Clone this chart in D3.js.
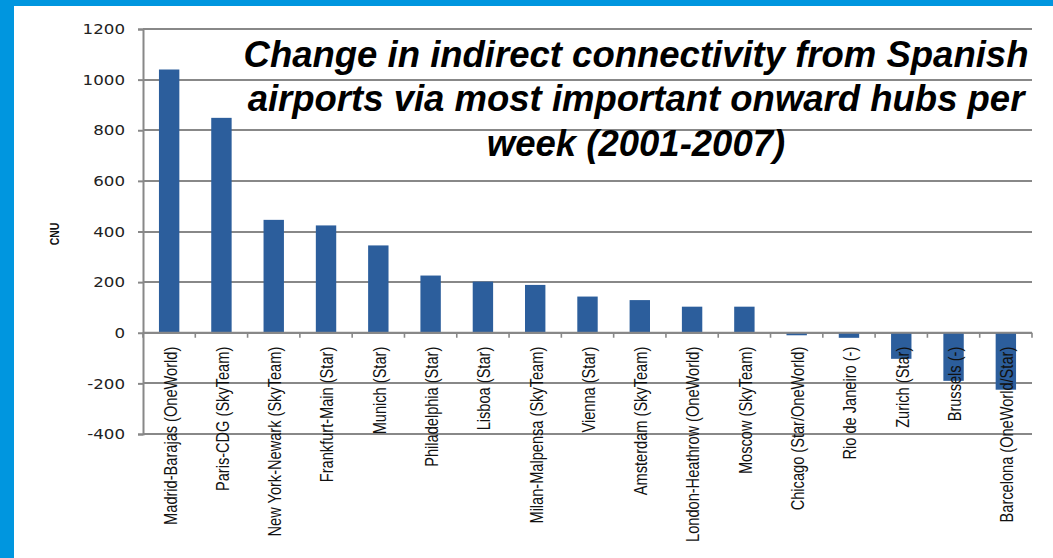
<!DOCTYPE html>
<html>
<head>
<meta charset="utf-8">
<script src="https://cdn.jsdelivr.net/npm/d3@7"></script>
<style>
  html, body { margin: 0; padding: 0; background: #ffffff; }
  svg { display: block; }
</style>
</head>
<body>
<svg id="chart" width="1053" height="558"></svg>
<script>
// ---- data ----
const categories = [
  "Madrid-Barajas (OneWorld)",
  "Paris-CDG (SkyTeam)",
  "New York-Newark (SkyTeam)",
  "Frankfurt-Main (Star)",
  "Munich (Star)",
  "Philadelphia (Star)",
  "Lisboa (Star)",
  "Milan-Malpensa (SkyTeam)",
  "Vienna (Star)",
  "Amsterdam (SkyTeam)",
  "London-Heathrow (OneWorld)",
  "Moscow (SkyTeam)",
  "Chicago (Star/OneWorld)",
  "Rio de Janeiro (-)",
  "Zurich (Star)",
  "Brussels (-)",
  "Barcelona (OneWorld/Star)"
];
const values = [1040, 849, 446, 424, 345, 226, 202, 189, 143, 129, 103, 103, -10, -20, -103, -190, -225];
const yTicks = [-400, -200, 0, 200, 400, 600, 800, 1000, 1200];
const yDomain = [-400, 1200];
const yLabel = "CNU";
const titleLines = [
  "Change in indirect connectivity from Spanish",
  "airports via most important onward hubs per",
  "week (2001-2007)"
];

// ---- layout ----
const W = 1053, H = 558;
const plot = { left: 143, right: 1032, top: 29, bottom: 434 };
const gridColor = "#888888";
const svg = d3.select("#chart");

// background and blue frame
svg.append("rect").attr("x", 0).attr("y", 0).attr("width", W).attr("height", H).attr("fill", "#ffffff");
svg.append("rect").attr("x", 0).attr("y", 0).attr("width", W).attr("height", 6).attr("fill", "#0096DF");
svg.append("rect").attr("x", 0).attr("y", 0).attr("width", 14).attr("height", H).attr("fill", "#0096DF");

const x = d3.scaleBand()
  .domain(categories)
  .range([plot.left, plot.right])
  .paddingInner(0.61)
  .paddingOuter(0.305);

const y = d3.scaleLinear().domain(yDomain).range([plot.bottom, plot.top]);

// gridlines drawn as thin rects so they render solidly
const grid = svg.append("g").attr("class", "grid");
grid.selectAll("rect")
  .data(yTicks)
  .join("rect")
  .attr("x", plot.left)
  .attr("width", plot.right - plot.left)
  .attr("y", d => Math.round(y(d)) - 1)
  .attr("height", 2)
  .attr("fill", gridColor);

// y axis
const yAxis = svg.append("g")
  .attr("transform", `translate(${plot.left},0)`)
  .call(d3.axisLeft(y).tickValues(yTicks).tickSize(5).tickPadding(0).tickFormat(d => String(d)));
yAxis.select(".domain").style("stroke", gridColor).style("stroke-width", "2px");
yAxis.selectAll(".tick line").style("stroke", gridColor).style("stroke-width", "2px");
yAxis.selectAll(".tick text")
  .attr("x", 0)
  .attr("transform", "translate(-18,0) scale(1.15,1)")
  .attr("fill", "#222")
  .style("font-family", "'DejaVu Sans', sans-serif")
  .style("font-size", "14.5px");

// y label
svg.append("text")
  .attr("transform", `translate(54,234) rotate(-90) scale(1,1.3)`)
  .attr("text-anchor", "middle")
  .attr("dy", "0.35em")
  .style("font-family", "'Liberation Sans', Arial, sans-serif")
  .style("font-weight", "bold")
  .style("font-size", "10.5px")
  .attr("fill", "#111")
  .text(yLabel);

// bars
svg.append("g")
  .selectAll("rect")
  .data(values)
  .join("rect")
  .attr("x", (d, i) => x(categories[i]))
  .attr("width", x.bandwidth())
  .attr("y", d => y(Math.max(0, d)))
  .attr("height", d => Math.abs(y(d) - y(0)))
  .attr("fill", "#2C5E9C");

// x axis at zero
const x0 = y(0);
svg.append("line")
  .attr("x1", plot.left).attr("x2", plot.right)
  .attr("y1", x0).attr("y2", x0)
  .style("stroke", gridColor).style("stroke-width", "2px");
const boundaries = categories.map(c => x(c) - x.step() * x.paddingInner() / 2).concat([plot.right]);
svg.append("g")
  .selectAll("line")
  .data(boundaries)
  .join("line")
  .attr("x1", d => d).attr("x2", d => d)
  .attr("y1", x0).attr("y2", x0 + 5)
  .style("stroke", gridColor).style("stroke-width", "1.6px");

// x labels (rotated)
svg.append("g")
  .selectAll("text")
  .data(categories)
  .join("text")
  .attr("transform", d => `translate(${x(d) + x.bandwidth() / 2 + 1},${x0 + 14}) rotate(-90) scale(1,1.25)`)
  .attr("text-anchor", "end")
  .attr("dy", "0.35em")
  .style("font-family", "'Liberation Sans', Arial, sans-serif")
  .style("font-size", "14.6px")
  .attr("fill", "#111")
  .text(d => d);

// title
svg.append("g")
  .selectAll("text")
  .data(titleLines)
  .join("text")
  .attr("x", 636)
  .attr("y", (d, i) => 67 + i * 44.3)
  .attr("text-anchor", "middle")
  .style("font-family", "'Liberation Sans', Arial, sans-serif")
  .style("font-weight", "bold")
  .style("font-style", "italic")
  .style("font-size", "36.5px")
  .attr("fill", "#000")
  .text(d => d);
</script>
</body>
</html>
